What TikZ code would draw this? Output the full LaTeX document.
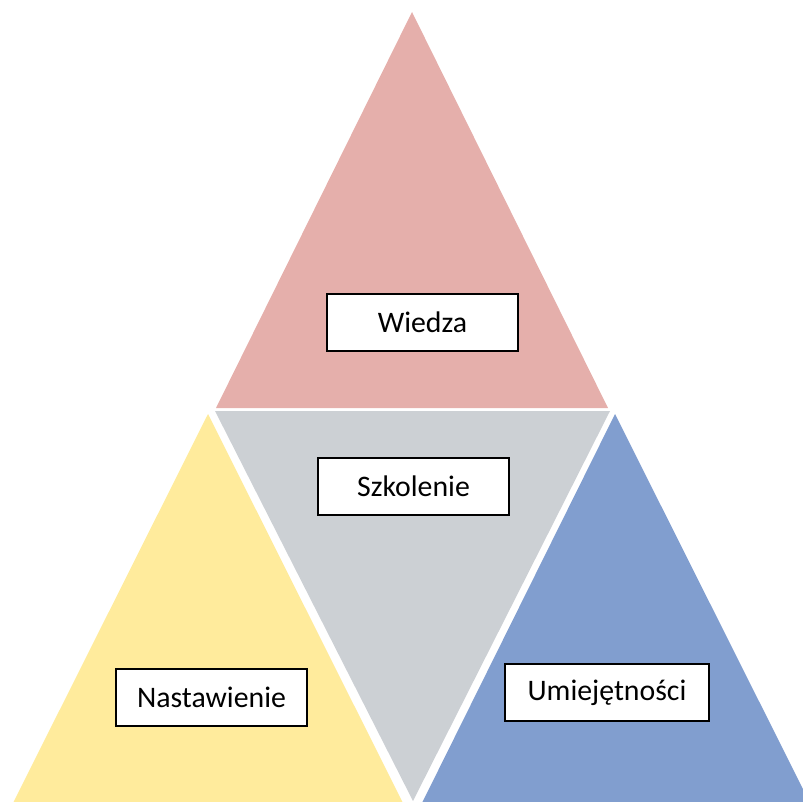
\documentclass[tikz,border=0pt]{standalone}
\usepackage{fontspec}
\setmainfont{Carlito}
\definecolor{pinkT}{RGB}{229,175,171}
\definecolor{grayT}{RGB}{204,208,212}
\definecolor{yellowT}{RGB}{255,235,156}
\definecolor{blueT}{RGB}{129,158,207}
\tikzset{
  labelbox/.style={draw=black, line width=1.2pt, fill=white, rectangle, inner sep=0pt,
    font=\fontsize{29.8}{35}\selectfont, anchor=center}
}
\begin{document}
\begin{tikzpicture}[x=1pt,y=-1pt]
\useasboundingbox (0,0) rectangle (803,802);
\begin{scope}
\clip (0,0) rectangle (803,802);
\fill[pinkT] (412,12) -- (608,408) -- (216,408) -- cycle;
\fill[grayT] (215,411) -- (610,411) -- (413,801) -- cycle;
\fill[yellowT] (208,414) -- (404,805) -- (12,805) -- cycle;
\fill[blueT] (615,414) -- (811,805) -- (421,805) -- cycle;
\end{scope}
\node[labelbox, minimum width=191pt, minimum height=57pt] (wiedza) at (422.5,322.5) {Wiedza};
\node[labelbox, minimum width=191pt, minimum height=57pt] (szkolenie) at (413.5,486.5) {Szkolenie};
\node[labelbox, minimum width=191pt, minimum height=57pt] (nastawienie) at (211.5,697.5) {Nastawienie};
\node[labelbox, minimum width=204pt, minimum height=57pt] (umiejetnosci) at (607,692.5) {Umiejętności};
\end{tikzpicture}
\end{document}
